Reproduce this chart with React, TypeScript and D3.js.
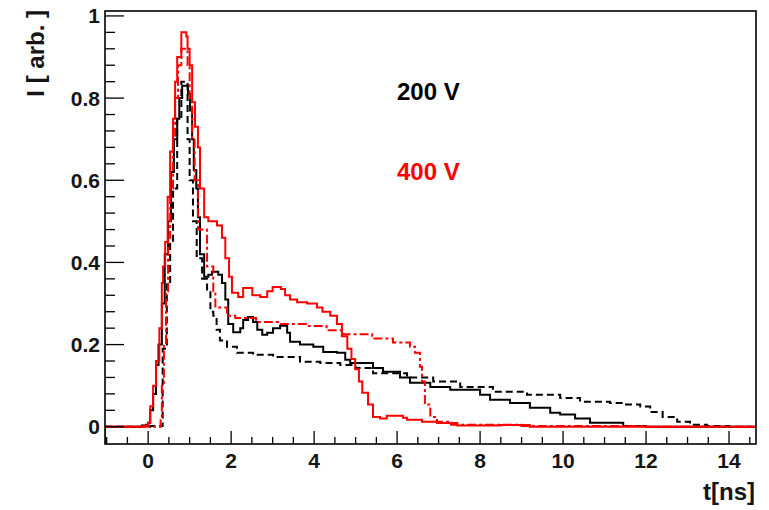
import React from 'react';
import * as d3 from 'd3';

const width = 769;
const height = 510;
const frame = { left: 105, right: 756, top: 11, bottom: 444 };

const tRange = [-1.04, 14.65];
const iRange = [-0.042, 1.012];

const xMajor = [0, 2, 4, 6, 8, 10, 12, 14];
const yMajor = [0, 0.2, 0.4, 0.6, 0.8, 1];
const yLabels = ['0', '0.2', '0.4', '0.6', '0.8', '1'];
const legend = ['200 V', '400 V'];

// [t (ns), I] at each step start
const black200: [number, number][] = [
  [-1.04, 0], [-0.15, 0.003], [-0.05, 0.005], [0.0, 0.01], [0.05, 0.04], [0.12, 0.08],
  [0.19, 0.15], [0.25, 0.2], [0.33, 0.3], [0.4, 0.42], [0.48, 0.5], [0.55, 0.62],
  [0.62, 0.7], [0.7, 0.75], [0.75, 0.8], [0.82, 0.83], [0.96, 0.81], [1.01, 0.77],
  [1.06, 0.7], [1.1, 0.625], [1.16, 0.58], [1.2, 0.51], [1.25, 0.42], [1.35, 0.365],
  [1.45, 0.37], [1.54, 0.377], [1.69, 0.37], [1.78, 0.35], [1.86, 0.31], [1.93, 0.25],
  [2.05, 0.23], [2.22, 0.24], [2.29, 0.26], [2.41, 0.267], [2.53, 0.255], [2.63, 0.236],
  [2.75, 0.224], [2.87, 0.229], [3.01, 0.24], [3.18, 0.246], [3.35, 0.229], [3.42, 0.207],
  [3.66, 0.2], [3.98, 0.195], [4.22, 0.182], [4.55, 0.18], [4.75, 0.163], [4.87, 0.155],
  [5.42, 0.143], [5.66, 0.134], [6.07, 0.12], [6.31, 0.107], [6.8, 0.097], [7.28, 0.09],
  [8.0, 0.078], [8.24, 0.066], [8.72, 0.058], [9.2, 0.046], [9.69, 0.034], [9.93, 0.03],
  [10.29, 0.02], [10.65, 0.01], [11.45, 0.002], [12.0, 0.0],
];

const black200Dash: [number, number][] = [
  [-1.04, 0], [0.05, 0.002], [0.35, 0.19], [0.45, 0.35], [0.53, 0.45], [0.6, 0.58],
  [0.7, 0.75], [0.8, 0.84], [0.95, 0.7], [1.0, 0.6], [1.08, 0.5], [1.17, 0.41],
  [1.3, 0.36], [1.42, 0.33], [1.5, 0.28], [1.57, 0.27], [1.65, 0.236], [1.73, 0.21],
  [1.9, 0.195], [2.14, 0.18], [2.53, 0.175], [3.01, 0.17], [3.66, 0.158], [4.15, 0.155],
  [4.63, 0.15], [5.0, 0.143], [5.42, 0.13], [6.24, 0.12], [6.87, 0.11], [7.52, 0.097],
  [8.31, 0.085], [9.13, 0.078], [9.93, 0.07], [10.41, 0.061], [11.13, 0.058],
  [11.45, 0.054], [11.86, 0.049], [12.1, 0.036], [12.4, 0.024], [12.75, 0.012],
  [13.06, 0.005], [13.47, 0.002], [14.0, 0.0],
];

const red400: [number, number][] = [
  [-1.04, 0], [-0.1, 0.003], [0.0, 0.01], [0.05, 0.05], [0.12, 0.1], [0.19, 0.16],
  [0.27, 0.24], [0.33, 0.35], [0.36, 0.39], [0.41, 0.45], [0.47, 0.56], [0.53, 0.67],
  [0.6, 0.75], [0.65, 0.84], [0.7, 0.9], [0.8, 0.96], [0.92, 0.95], [0.95, 0.92],
  [1.0, 0.88], [1.06, 0.79], [1.13, 0.73], [1.2, 0.68], [1.25, 0.58], [1.35, 0.51],
  [1.45, 0.5], [1.66, 0.49], [1.78, 0.46], [1.86, 0.41], [1.95, 0.365], [2.02, 0.326],
  [2.17, 0.316], [2.29, 0.338], [2.51, 0.32], [2.7, 0.316], [2.87, 0.33], [3.0, 0.34],
  [3.2, 0.335], [3.3, 0.32], [3.42, 0.31], [3.59, 0.303], [3.83, 0.3], [4.07, 0.29],
  [4.2, 0.28], [4.39, 0.27], [4.55, 0.25], [4.67, 0.22], [4.8, 0.19], [4.9, 0.165],
  [4.99, 0.14], [5.08, 0.11], [5.16, 0.083], [5.3, 0.054], [5.42, 0.024], [5.59, 0.02],
  [5.75, 0.027], [6.14, 0.022], [6.24, 0.017], [6.6, 0.012], [6.96, 0.009], [7.45, 0.003],
  [8.5, 0.004], [9.2, 0.0],
];

const red400Dash: [number, number][] = [
  [-1.04, 0], [0.3, 0.02], [0.33, 0.1], [0.38, 0.2], [0.43, 0.33], [0.48, 0.46],
  [0.53, 0.58], [0.6, 0.7], [0.65, 0.8], [0.72, 0.88], [0.8, 0.92], [0.95, 0.88],
  [1.0, 0.8], [1.06, 0.7], [1.12, 0.6], [1.2, 0.48], [1.42, 0.39], [1.57, 0.33],
  [1.62, 0.29], [1.9, 0.27], [2.1, 0.265], [2.6, 0.255], [3.2, 0.25], [3.8, 0.245],
  [4.3, 0.235], [4.7, 0.225], [5.4, 0.215], [5.9, 0.205], [6.31, 0.195], [6.43, 0.18],
  [6.55, 0.146], [6.6, 0.11], [6.67, 0.054], [6.8, 0.024], [6.96, 0.012], [7.3, 0.005],
  [9.0, 0.002], [12.0, 0.0],
];

const font = '"Liberation Sans", Arial, Helvetica, sans-serif';
const ink = '#151515';

export default function App() {
  const x = d3.scaleLinear().domain(tRange).range([frame.left, frame.right]);
  const y = d3.scaleLinear().domain(iRange).range([frame.bottom, frame.top]);

  const line = d3
    .line<[number, number]>()
    .x(d => x(d[0]))
    .y(d => y(d[1]))
    .curve(d3.curveStepAfter);

  const path = (pts: [number, number][], fromBottom = false) => {
    const last = pts[pts.length - 1];
    const all: [number, number][] = [...pts, [tRange[1], last[1]]];
    if (fromBottom) all.unshift([tRange[0], iRange[0]]);
    return line(all) || '';
  };

  const xMinor = d3.range(-1, 14.6, 0.5).filter(v => Math.abs(v / 2 - Math.round(v / 2)) > 1e-6);
  const yMinor = d3.range(0, 1.001, 0.04).filter(v => Math.abs(v / 0.2 - Math.round(v / 0.2)) > 1e-6);

  return (
    <svg width={width} height={height} style={{ position: 'absolute', left: 0, top: 0, background: '#fff' }}>
      <defs>
        <clipPath id="plot">
          <rect x={frame.left} y={frame.top} width={frame.right - frame.left} height={frame.bottom - frame.top} />
        </clipPath>
      </defs>

      <g clipPath="url(#plot)" fill="none" strokeWidth={2}>
        <path d={path(black200Dash)} stroke="#000" strokeDasharray="7,4" />
        <path d={path(black200)} stroke="#000" />
        <path d={path(red400Dash)} stroke="#ff0000" strokeDasharray="9,3,3,3" />
        <path d={path(red400, true)} stroke="#ff0000" />
      </g>

      {/* frame */}
      <rect x={frame.left} y={frame.top} width={frame.right - frame.left} height={frame.bottom - frame.top}
        fill="none" stroke="#000" strokeWidth={1.6} />

      {/* x ticks */}
      {xMajor.map(v => (
        <line key={'xM' + v} x1={x(v)} x2={x(v)} y1={frame.bottom} y2={frame.bottom - 13} stroke="#000" strokeWidth={1.3} />
      ))}
      {xMinor.map(v => (
        <line key={'xm' + v} x1={x(v)} x2={x(v)} y1={frame.bottom} y2={frame.bottom - 7} stroke="#000" strokeWidth={1.3} />
      ))}
      {xMajor.map(v => (
        <text key={'xl' + v} x={x(v)} y={468} textAnchor="middle" fontFamily={font} fontWeight="bold"
          fontSize={21} fill={ink}>{v}</text>
      ))}

      {/* y ticks */}
      {yMajor.map(v => (
        <line key={'yM' + v} x1={frame.left} x2={frame.left + 19} y1={y(v)} y2={y(v)} stroke="#000" strokeWidth={1.3} />
      ))}
      {yMinor.map(v => (
        <line key={'ym' + v} x1={frame.left} x2={frame.left + 10} y1={y(v)} y2={y(v)} stroke="#000" strokeWidth={1.3} />
      ))}
      {yMajor.map((v, i) => (
        <text key={'yl' + v} x={100} y={y(v)} dy="0.36em" textAnchor="end" fontFamily={font} fontWeight="bold"
          fontSize={21} fill={ink}>{yLabels[i]}</text>
      ))}

      {/* axis titles */}
      <text x={755} y={500} textAnchor="end" fontFamily={font} fontWeight="bold" fontSize={24} fill={ink}>t[ns]</text>
      <text transform="translate(44,10) rotate(-90)" textAnchor="end" fontFamily={font} fontWeight="bold"
        fontSize={24} fill={ink}>I [ arb. ]</text>

      {/* legend text */}
      <text x={397} y={100} fontFamily={font} fontWeight="bold" fontSize={24} fill="#000">{legend[0]}</text>
      <text x={397} y={180} fontFamily={font} fontWeight="bold" fontSize={24} fill="#ff0000">{legend[1]}</text>
    </svg>
  );
}
